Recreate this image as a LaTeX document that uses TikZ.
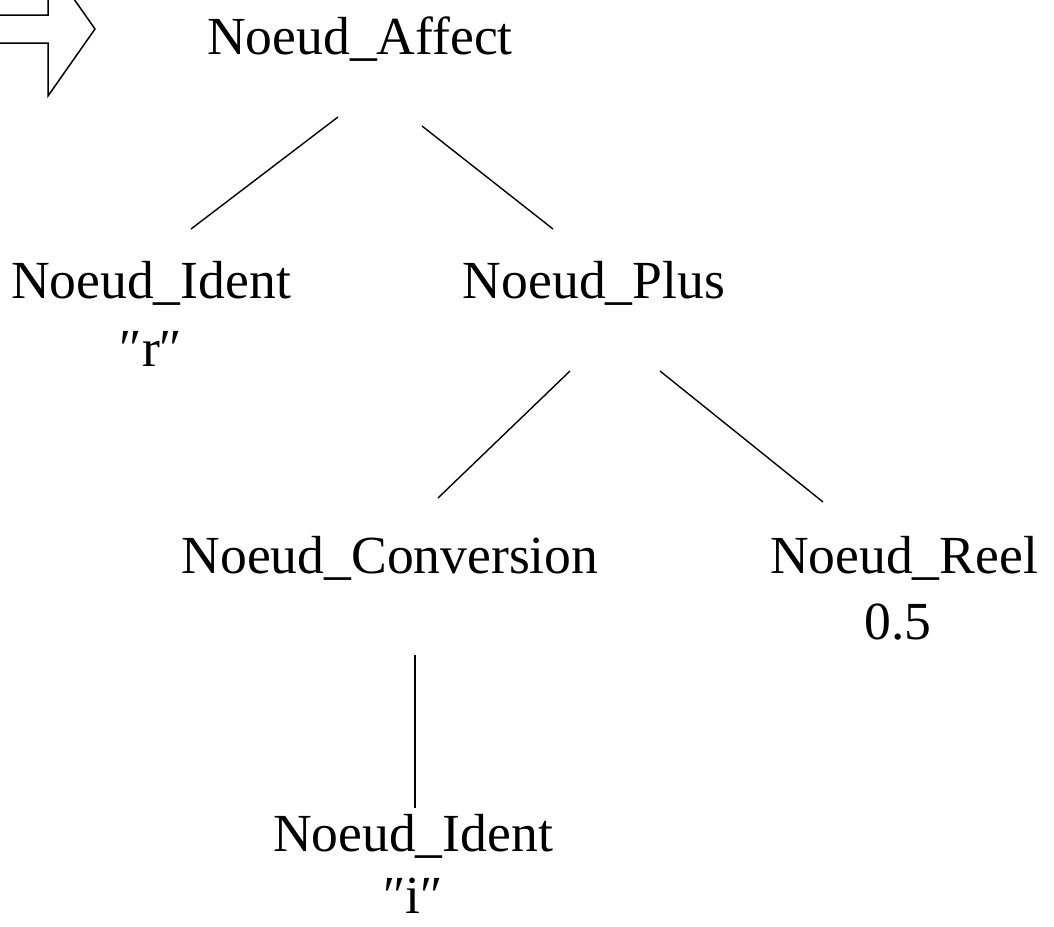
\documentclass[tikz,border=0pt]{standalone}
\usepackage{fontspec}
\setmainfont{Liberation Serif}
\begin{document}
\begin{tikzpicture}[x=1pt,y=-1pt,
  lbl/.style={anchor=base,inner sep=0pt,font=\fontsize{53.6}{64}\selectfont},
  edge/.style={line width=1.4pt},
  bigarrow/.style={line width=1.5pt,line join=miter}]
\useasboundingbox (0,0) rectangle (1054,926);

% block arrow in the corner, cut by the page edges
\begin{scope}
  \clip (0,0) rectangle (1054,926);
  \draw[bigarrow] (-5,15) -- (48,15) -- (48,-38) -- (95,29) -- (48,96) -- (48,43) -- (-5,43);
\end{scope}

% tree labels
\node[lbl] (affect) at (360,54) {Noeud\_Affect};
\node[lbl] (identr) at (151,298) {Noeud\_Ident};
\node[lbl] (identrv) at (151,366) {″r″};
\node[lbl] (plus) at (594,298) {Noeud\_Plus};
\node[lbl] (conv) at (390,573) {Noeud\_Conversion};
\node[lbl] (reel) at (904,573) {Noeud\_Reel};
\node[lbl] (reelv) at (898,639) {0.5};
\node[lbl] (identi) at (413,851) {Noeud\_Ident};
\node[lbl] (identiv) at (413,913) {″i″};

% branch end points
\coordinate (a1) at (338,117); \coordinate (b1) at (191,229);
\coordinate (a2) at (422,126); \coordinate (b2) at (553,229);
\coordinate (a3) at (570,371); \coordinate (b3) at (438,498);
\coordinate (a4) at (660,371); \coordinate (b4) at (823,502);
\coordinate (a5) at (415,655); \coordinate (b5) at (415,808);

\draw[edge] (a1) -- (b1);
\draw[edge] (a2) -- (b2);
\draw[edge] (a3) -- (b3);
\draw[edge] (a4) -- (b4);
\draw[edge] (a5) -- (b5);
\end{tikzpicture}
\end{document}
